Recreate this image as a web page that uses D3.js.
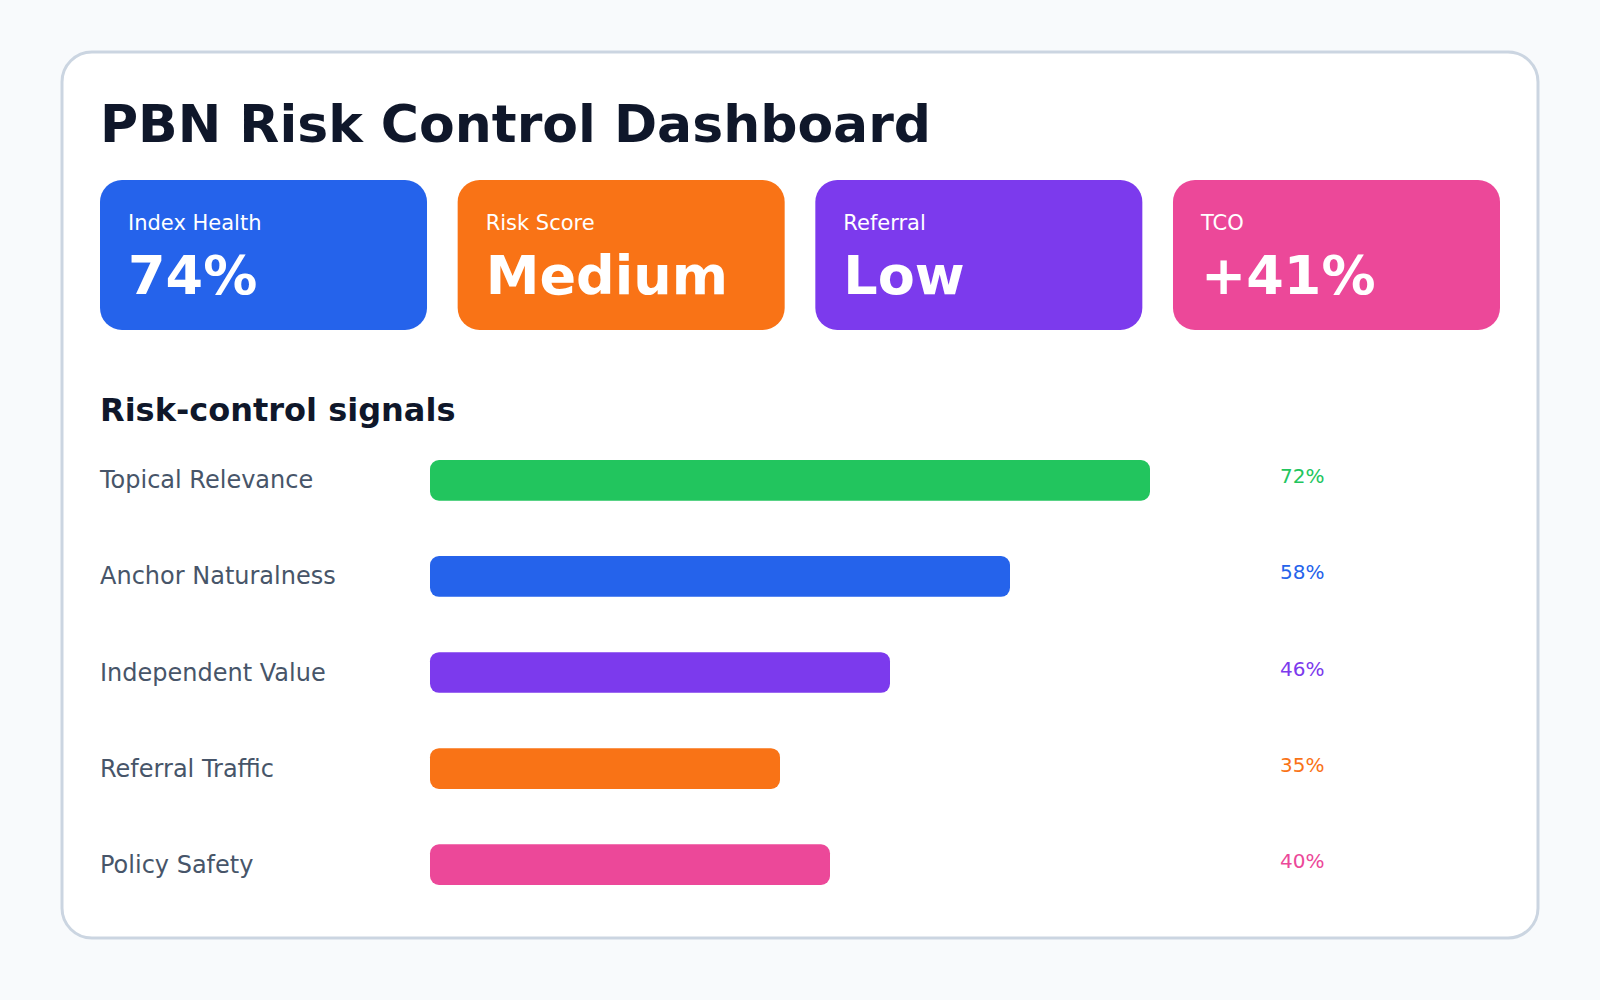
<!doctype html>
<html>
<head>
<script src="https://cdnjs.cloudflare.com/ajax/libs/d3/7.8.5/d3.min.js"></script>
<style>
  body { margin: 0; background: #f8fafc; font-family: "DejaVu Sans", sans-serif; }
</style>
</head>
<body>
<svg id="chart" width="1600" height="1000"></svg>
<script>
var kpiLabels = ["Index Health", "Risk Score", "Referral", "TCO"];
var kpiValues = ["74%", "Medium", "Low", "+41%"];
var kpiColors = ["#2563eb", "#f97316", "#7c3aed", "#ec4899"];

var signalNames = ["Topical Relevance", "Anchor Naturalness", "Independent Value", "Referral Traffic", "Policy Safety"];
var signalValues = [72, 58, 46, 35, 40];
var signalColors = ["#22c55e", "#2563eb", "#7c3aed", "#f97316", "#ec4899"];

var svg = d3.select("#chart");

svg.append("rect")
  .attr("x", 62).attr("y", 52).attr("width", 1476).attr("height", 886)
  .attr("rx", 30).attr("fill", "#fff").attr("stroke", "#cbd5e1").attr("stroke-width", 3);

svg.append("text").attr("x", 100).attr("y", 142)
  .attr("font-size", 52).attr("font-weight", "bold").attr("fill", "#0f172a")
  .text("PBN Risk Control Dashboard");

// KPI cards
var kx = d3.scaleBand().domain(kpiLabels).range([100, 1500]).paddingInner(0.0857);
var cards = svg.selectAll("g.kpi").data(kpiLabels).enter().append("g")
  .attr("class", "kpi")
  .attr("transform", d => "translate(" + kx(d) + ",180)");
cards.append("rect").attr("width", kx.bandwidth()).attr("height", 150).attr("rx", 22)
  .attr("fill", (d, i) => kpiColors[i]);
cards.append("text").attr("x", 28).attr("y", 50).attr("font-size", 21).attr("fill", "#fff")
  .text(d => d);
cards.append("text").attr("x", 28).attr("y", 114).attr("font-size", 54).attr("font-weight", "bold")
  .attr("fill", "#fff").text((d, i) => kpiValues[i]);

svg.append("text").attr("x", 100).attr("y", 421)
  .attr("font-size", 32).attr("font-weight", "bold").attr("fill", "#0f172a")
  .text("Risk-control signals");

// bars
var x = d3.scaleLinear().domain([0, 100]).range([430, 1430]);
var y = d3.scaleBand().domain(signalNames).range([460, 885]).paddingInner(0.576).paddingOuter(0);

var rows = svg.selectAll("g.row").data(signalNames).enter().append("g").attr("class", "row");
rows.append("text").attr("x", 100).attr("y", d => y(d) + y.bandwidth() / 2 + 8)
  .attr("font-size", 24).attr("fill", "#475569").text(d => d);
rows.append("rect").attr("x", x(0)).attr("y", d => y(d))
  .attr("width", (d, i) => x(signalValues[i]) - x(0)).attr("height", y.bandwidth())
  .attr("rx", 9).attr("fill", (d, i) => signalColors[i]);
rows.append("text").attr("x", 1280).attr("y", d => y(d) + y.bandwidth() / 2 + 3)
  .attr("font-size", 20).attr("fill", (d, i) => signalColors[i])
  .text((d, i) => signalValues[i] + "%");
</script>
</body>
</html>
